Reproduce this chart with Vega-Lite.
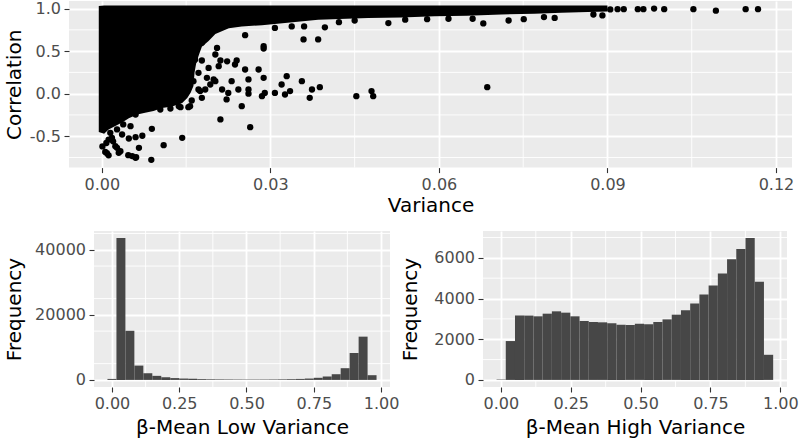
{
  "$schema": "https://vega.github.io/schema/vega-lite/v6.json",
  "background": "white",
  "padding": {"left": 3, "top": 0, "right": 0, "bottom": 0},
  "spacing": 14,
  "config": {
    "font": "DejaVu Sans",
    "view": {"fill": "#EBEBEB", "stroke": null},
    "axis": {
      "domain": false,
      "tickColor": "#333333",
      "tickSize": 5,
      "tickWidth": 1.1,
      "labelFont": "DejaVu Sans",
      "labelFontSize": 16,
      "labelColor": "#4D4D4D",
      "labelFlush": false,
      "labelOverlap": false,
      "titleFont": "DejaVu Sans",
      "titleFontSize": 20,
      "titleFontWeight": "normal",
      "titleColor": "#000000",
      "gridColor": "#FFFFFF",
      "gridWidth": 1.8,
      "gridOpacity": 1
    },
    "axisX": {"labelPadding": 3.5},
    "axisY": {"labelPadding": 3.5}
  },
  "datasets": {
    "none": [],
    "pts": [
      {"var":0.0001,"cor":-0.62},{"var":0.0006,"cor":-0.685},{"var":0.0009,"cor":-0.70},{"var":0.0012,"cor":-0.725},{"var":0.0008,"cor":-0.58},{"var":0.0012,"cor":-0.54},{"var":0.0018,"cor":-0.52},{"var":0.002,"cor":-0.56},{"var":0.0015,"cor":-0.46},{"var":0.0027,"cor":-0.42},{"var":0.0036,"cor":-0.48},{"var":0.0038,"cor":-0.362},{"var":0.0051,"cor":-0.382},{"var":0.0024,"cor":-0.617},{"var":0.0027,"cor":-0.637},{"var":0.003,"cor":-0.695},{"var":0.0033,"cor":-0.676},{"var":0.0047,"cor":-0.723},{"var":0.0054,"cor":-0.734},{"var":0.006,"cor":-0.754},{"var":0.0061,"cor":-0.746},{"var":0.0048,"cor":-0.527},{"var":0.006,"cor":-0.511},{"var":0.0072,"cor":-0.495},{"var":0.0066,"cor":-0.637},{"var":0.0088,"cor":-0.778},{"var":0.011,"cor":-0.605},{"var":0.0143,"cor":-0.519},{"var":0.0089,"cor":-0.413},{"var":0.006,"cor":-0.245},{"var":0.0104,"cor":-0.186},{"var":0.0122,"cor":-0.174},{"var":0.0137,"cor":-0.147},{"var":0.014,"cor":-0.159},{"var":0.0154,"cor":-0.159},{"var":0.0157,"cor":-0.147},{"var":0.016,"cor":-0.08},{"var":0.0211,"cor":-0.303},{"var":0.0264,"cor":-0.394},
      {"var":0.0148,"cor":0.068},{"var":0.0163,"cor":0.147},{"var":0.0157,"cor":0.245},{"var":0.0172,"cor":0.245},{"var":0.0163,"cor":0.38},{"var":0.0166,"cor":0.40},{"var":0.0178,"cor":0.39},{"var":0.0172,"cor":0.049},{"var":0.0175,"cor":0.03},{"var":0.0178,"cor":-0.049},{"var":0.0184,"cor":0.049},{"var":0.0193,"cor":0.108},{"var":0.0187,"cor":0.186},{"var":0.0199,"cor":0.167},{"var":0.019,"cor":0.303},{"var":0.0208,"cor":0.323},{"var":0.0202,"cor":0.147},{"var":0.0214,"cor":0.049},{"var":0.0225,"cor":0.009},{"var":0.0222,"cor":-0.068},{"var":0.0231,"cor":0.147},{"var":0.0243,"cor":0.049},{"var":0.0249,"cor":-0.147},{"var":0.0261,"cor":0.049},{"var":0.0261,"cor":0.0},{"var":0.0261,"cor":0.167},{"var":0.0255,"cor":0.284},{"var":0.0279,"cor":0.284},{"var":0.0288,"cor":0.186},{"var":0.0285,"cor":-0.029},{"var":0.029,"cor":0.009},{"var":0.0308,"cor":0.009},{"var":0.0326,"cor":-0.01},{"var":0.0335,"cor":0.03},{"var":0.032,"cor":0.108},{"var":0.0329,"cor":0.206},{"var":0.0356,"cor":0.147},{"var":0.037,"cor":-0.049},{"var":0.0374,"cor":0.049},{"var":0.0388,"cor":0.076},{"var":0.0453,"cor":-0.029},{"var":0.048,"cor":0.03},{"var":0.0483,"cor":-0.029},{"var":0.0686,"cor":0.076},
      {"var":0.0202,"cor":0.46},{"var":0.0211,"cor":0.39},{"var":0.0223,"cor":0.38},{"var":0.0237,"cor":0.343},{"var":0.024,"cor":0.39},{"var":0.0205,"cor":0.538},{"var":0.0178,"cor":0.597},{"var":0.0288,"cor":0.558},{"var":0.0288,"cor":0.53},{"var":0.0255,"cor":0.687},{"var":0.0359,"cor":0.637},{"var":0.0385,"cor":0.637},
      {"var":0.0308,"cor":0.773},{"var":0.0338,"cor":0.79},{"var":0.036,"cor":0.79},{"var":0.0397,"cor":0.78},{"var":0.0422,"cor":0.84},{"var":0.045,"cor":0.86},{"var":0.051,"cor":0.83},{"var":0.054,"cor":0.87},{"var":0.0579,"cor":0.875},{"var":0.0617,"cor":0.88},{"var":0.066,"cor":0.88},{"var":0.0679,"cor":0.825},{"var":0.0724,"cor":0.86},{"var":0.0751,"cor":0.875},{"var":0.0787,"cor":0.9},{"var":0.0806,"cor":0.89},{"var":0.0875,"cor":0.93},{"var":0.0891,"cor":0.92},
      {"var":0.0905,"cor":0.99},{"var":0.0918,"cor":0.993},{"var":0.0929,"cor":0.993},{"var":0.0954,"cor":0.993},{"var":0.0964,"cor":0.993},{"var":0.0983,"cor":1.0},{"var":0.1001,"cor":0.993},{"var":0.1053,"cor":0.993},{"var":0.1093,"cor":0.975},{"var":0.1146,"cor":0.993},{"var":0.1168,"cor":0.993}
    ],
    "blob": [
      {"var":-0.00055,"cor":1.03,"cor2":-0.45},{"var":0.0004,"cor":1.035,"cor2":-0.47},{"var":0.0012,"cor":1.035,"cor2":-0.42},{"var":0.0024,"cor":1.035,"cor2":-0.38},{"var":0.0036,"cor":1.035,"cor2":-0.34},{"var":0.0048,"cor":1.035,"cor2":-0.29},{"var":0.0063,"cor":1.035,"cor2":-0.245},{"var":0.0077,"cor":1.035,"cor2":-0.225},{"var":0.0092,"cor":1.035,"cor2":-0.205},{"var":0.0107,"cor":1.035,"cor2":-0.17},{"var":0.0125,"cor":1.035,"cor2":-0.15},{"var":0.0143,"cor":1.035,"cor2":-0.11},{"var":0.0152,"cor":1.035,"cor2":-0.05},{"var":0.0158,"cor":1.035,"cor2":0.01},{"var":0.0163,"cor":1.035,"cor2":0.09},{"var":0.0165,"cor":1.035,"cor2":0.25},{"var":0.0168,"cor":1.035,"cor2":0.36},{"var":0.0173,"cor":1.035,"cor2":0.46},{"var":0.0178,"cor":1.035,"cor2":0.55},{"var":0.019,"cor":1.035,"cor2":0.62},{"var":0.0202,"cor":1.035,"cor2":0.70},{"var":0.0226,"cor":1.035,"cor2":0.77},{"var":0.0249,"cor":1.035,"cor2":0.79},{"var":0.0285,"cor":1.035,"cor2":0.805},{"var":0.0326,"cor":1.035,"cor2":0.83},{"var":0.0385,"cor":1.035,"cor2":0.87},{"var":0.0474,"cor":1.035,"cor2":0.89},{"var":0.0533,"cor":1.035,"cor2":0.895},{"var":0.0592,"cor":1.035,"cor2":0.91},{"var":0.065,"cor":1.035,"cor2":0.915},{"var":0.0711,"cor":1.035,"cor2":0.93},{"var":0.077,"cor":1.035,"cor2":0.94},{"var":0.0818,"cor":1.035,"cor2":0.95},{"var":0.0865,"cor":1.035,"cor2":0.96},{"var":0.09,"cor":1.035,"cor2":0.965}
    ],
    "topMinorX": [{"var":0.015},{"var":0.045},{"var":0.075},{"var":0.105}],
    "topMinorY": [{"cor":-0.75},{"cor":-0.25},{"cor":0.25},{"cor":0.75}],
    "low": [
      {"lo":-0.0167,"hi":0.0167,"n":300},{"lo":0.0167,"hi":0.05,"n":43600},{"lo":0.05,"hi":0.0833,"n":15100},{"lo":0.0833,"hi":0.1167,"n":4400},{"lo":0.1167,"hi":0.15,"n":2050},{"lo":0.15,"hi":0.1833,"n":1250},{"lo":0.1833,"hi":0.2167,"n":820},{"lo":0.2167,"hi":0.25,"n":560},{"lo":0.25,"hi":0.2833,"n":420},{"lo":0.2833,"hi":0.3167,"n":320},{"lo":0.3167,"hi":0.35,"n":250},{"lo":0.35,"hi":0.3833,"n":200},{"lo":0.3833,"hi":0.4167,"n":170},{"lo":0.4167,"hi":0.45,"n":150},{"lo":0.45,"hi":0.4833,"n":130},{"lo":0.4833,"hi":0.5167,"n":120},{"lo":0.5167,"hi":0.55,"n":120},{"lo":0.55,"hi":0.5833,"n":130},{"lo":0.5833,"hi":0.6167,"n":150},{"lo":0.6167,"hi":0.65,"n":180},{"lo":0.65,"hi":0.6833,"n":230},{"lo":0.6833,"hi":0.7167,"n":300},{"lo":0.7167,"hi":0.75,"n":420},{"lo":0.75,"hi":0.7833,"n":650},{"lo":0.7833,"hi":0.8167,"n":1050},{"lo":0.8167,"hi":0.85,"n":1750},{"lo":0.85,"hi":0.8833,"n":3600},{"lo":0.8833,"hi":0.9167,"n":8300},{"lo":0.9167,"hi":0.95,"n":13300},{"lo":0.95,"hi":0.9833,"n":1450}
    ],
    "lowMinorX": [{"lo":0.125},{"lo":0.375},{"lo":0.625},{"lo":0.875}],
    "lowMinorY": [{"n":5000},{"n":15000},{"n":25000},{"n":35000},{"n":45000}],
    "high": [
      {"lo":-0.0155,"hi":0.0175,"n":20},{"lo":0.0175,"hi":0.0505,"n":1910},{"lo":0.0505,"hi":0.0835,"n":3170},{"lo":0.0835,"hi":0.1165,"n":3160},{"lo":0.1165,"hi":0.1495,"n":3125},{"lo":0.1495,"hi":0.1825,"n":3255},{"lo":0.1825,"hi":0.2155,"n":3370},{"lo":0.2155,"hi":0.2485,"n":3305},{"lo":0.2485,"hi":0.2815,"n":3125},{"lo":0.2815,"hi":0.3145,"n":2895},{"lo":0.3145,"hi":0.3475,"n":2845},{"lo":0.3475,"hi":0.3805,"n":2830},{"lo":0.3805,"hi":0.4135,"n":2780},{"lo":0.4135,"hi":0.4465,"n":2715},{"lo":0.4465,"hi":0.4795,"n":2700},{"lo":0.4795,"hi":0.5125,"n":2760},{"lo":0.5125,"hi":0.5455,"n":2730},{"lo":0.5455,"hi":0.5785,"n":2845},{"lo":0.5785,"hi":0.6115,"n":2975},{"lo":0.6115,"hi":0.6445,"n":3205},{"lo":0.6445,"hi":0.6775,"n":3420},{"lo":0.6775,"hi":0.7105,"n":3750},{"lo":0.7105,"hi":0.7435,"n":4195},{"lo":0.7435,"hi":0.7765,"n":4640},{"lo":0.7765,"hi":0.8095,"n":5230},{"lo":0.8095,"hi":0.8425,"n":5935},{"lo":0.8425,"hi":0.8755,"n":6430},{"lo":0.8755,"hi":0.9085,"n":6970},{"lo":0.9085,"hi":0.9415,"n":4820},{"lo":0.9415,"hi":0.9745,"n":1235}
    ],
    "highMinorX": [{"lo":0.125},{"lo":0.375},{"lo":0.625},{"lo":0.875}],
    "highMinorY": [{"n":1000},{"n":3000},{"n":5000},{"n":7000}]
  },
  "vconcat": [
    {
      "spacing": 0,
      "hconcat": [
        {
          "width": 1, "height": 10,
          "view": {"fill": null, "stroke": null},
          "data": {"name": "none"},
          "mark": {"type": "point", "opacity": 0},
          "encoding": {}
        },
        {
          "width": 723,
          "height": 166.6,
          "layer": [
            {
              "data": {"name": "topMinorX"},
              "mark": {"type": "rule", "color": "#FFFFFF", "strokeWidth": 0.9},
              "encoding": {"x": {"field": "var", "type": "quantitative", "scale": {"domain": [-0.00585, 0.12285], "nice": false, "zero": false}}}
            },
            {
              "data": {"name": "topMinorY"},
              "mark": {"type": "rule", "color": "#FFFFFF", "strokeWidth": 0.9},
              "encoding": {"y": {"field": "cor", "type": "quantitative", "scale": {"domain": [-0.869, 1.089], "nice": false, "zero": false}}}
            },
            {
              "data": {"name": "blob"},
              "mark": {"type": "area", "color": "#000000", "opacity": 1},
              "encoding": {
                "x": {"field": "var", "type": "quantitative", "scale": {"domain": [-0.00585, 0.12285], "nice": false, "zero": false}},
                "y": {"field": "cor", "type": "quantitative", "scale": {"domain": [-0.869, 1.089], "nice": false, "zero": false}},
                "y2": {"field": "cor2"}
              }
            },
            {
              "data": {"name": "pts"},
              "mark": {"type": "circle", "color": "#000000", "opacity": 1, "size": 40},
              "encoding": {
                "x": {"field": "var", "type": "quantitative", "title": "Variance",
                      "scale": {"domain": [-0.00585, 0.12285], "nice": false, "zero": false},
                      "axis": {"values": [0, 0.03, 0.06, 0.09, 0.12], "format": ".2f", "titlePadding": 3}},
                "y": {"field": "cor", "type": "quantitative", "title": "Correlation",
                      "scale": {"domain": [-0.869, 1.089], "nice": false, "zero": false},
                      "axis": {"values": [-0.5, 0, 0.5, 1], "format": ".1f", "labelExpr": "replace(datum.label, '\u2212', '-')", "titlePadding": 5.2}}
              }
            }
          ]
        }
      ]
    },
    {
      "spacing": 0,
      "hconcat": [
        {
          "width": 1, "height": 10,
          "view": {"fill": null, "stroke": null},
          "data": {"name": "none"},
          "mark": {"type": "point", "opacity": 0},
          "encoding": {}
        },
        {
          "width": 296,
          "height": 156,
          "layer": [
            {
              "data": {"name": "lowMinorX"},
              "mark": {"type": "rule", "color": "#FFFFFF", "strokeWidth": 0.9},
              "encoding": {"x": {"field": "lo", "type": "quantitative", "scale": {"domain": [-0.0667, 1.0333], "nice": false, "zero": false}}}
            },
            {
              "data": {"name": "lowMinorY"},
              "mark": {"type": "rule", "color": "#FFFFFF", "strokeWidth": 0.9},
              "encoding": {"y": {"field": "n", "type": "quantitative", "scale": {"domain": [-2180, 45780], "nice": false, "zero": false}}}
            },
            {
              "data": {"name": "low"},
              "mark": {"type": "rect", "color": "#474747"},
              "encoding": {
                "x": {"field": "lo", "type": "quantitative", "title": "β-Mean Low Variance",
                      "scale": {"domain": [-0.0667, 1.0333], "nice": false, "zero": false},
                      "axis": {"values": [0, 0.25, 0.5, 0.75, 1], "format": ".2f", "titlePadding": 6}},
                "x2": {"field": "hi"},
                "y": {"field": "n", "type": "quantitative", "title": "Frequency",
                      "scale": {"domain": [-2180, 45780], "nice": false, "zero": false},
                      "axis": {"values": [0, 10000, 20000, 30000, 40000], "format": "d", "titlePadding": 10}},
                "y2": {"datum": 0}
              }
            }
          ]
        },
        {
          "width": 1, "height": 10,
          "view": {"fill": null, "stroke": null},
          "data": {"name": "none"},
          "mark": {"type": "point", "opacity": 0},
          "encoding": {}
        },
        {
          "width": 304,
          "height": 156,
          "layer": [
            {
              "data": {"name": "highMinorX"},
              "mark": {"type": "rule", "color": "#FFFFFF", "strokeWidth": 0.9},
              "encoding": {"x": {"field": "lo", "type": "quantitative", "scale": {"domain": [-0.064, 1.024], "nice": false, "zero": false}}}
            },
            {
              "data": {"name": "highMinorY"},
              "mark": {"type": "rule", "color": "#FFFFFF", "strokeWidth": 0.9},
              "encoding": {"y": {"field": "n", "type": "quantitative", "scale": {"domain": [-348, 7318], "nice": false, "zero": false}}}
            },
            {
              "data": {"name": "high"},
              "mark": {"type": "rect", "color": "#474747"},
              "encoding": {
                "x": {"field": "lo", "type": "quantitative", "title": "β-Mean High Variance",
                      "scale": {"domain": [-0.064, 1.024], "nice": false, "zero": false},
                      "axis": {"values": [0, 0.25, 0.5, 0.75, 1], "format": ".2f", "titlePadding": 6}},
                "x2": {"field": "hi"},
                "y": {"field": "n", "type": "quantitative", "title": "Frequency",
                      "scale": {"domain": [-348, 7318], "nice": false, "zero": false},
                      "axis": {"values": [0, 2000, 4000, 6000], "format": "d", "titlePadding": 13}},
                "y2": {"datum": 0}
              }
            }
          ]
        }
      ]
    }
  ]
}
